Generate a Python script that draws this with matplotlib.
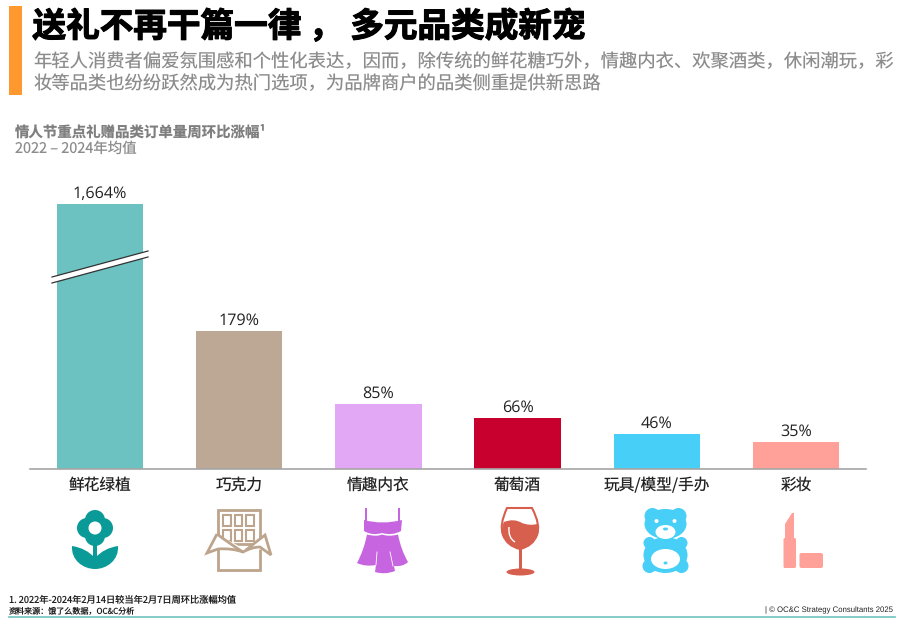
import matplotlib
matplotlib.use("Agg")
import matplotlib.pyplot as plt
import matplotlib.patheffects as pe
from matplotlib.path import Path
from matplotlib.patches import PathPatch, Circle, Ellipse, Rectangle, FancyBboxPatch, Polygon
import numpy as np

plt.rcParams['font.family'] = ['Noto Sans CJK SC', 'DejaVu Sans']
plt.rcParams['text.hinting'] = 'none'

categories = ['鲜花绿植', '巧克力', '情趣内衣', '葡萄酒', '玩具/模型/手办', '彩妆']
growth = [1664, 179, 85, 66, 46, 35]
bar_colors = ['#6CC1C1', '#BDA895', '#E3A8F5', '#C8002D', '#47CFF7', '#FFA199']

title = '送礼不再干篇一律 ， 多元品类成新宠'
subtitle1 = '年轻人消费者偏爱氛围感和个性化表达，因而，除传统的鲜花糖巧外，情趣内衣、欢聚酒类，休闲潮玩，彩'
subtitle2 = '妆等品类也纷纷跃然成为热门选项，为品牌商户的品类侧重提供新思路'
chart_title = '情人节重点礼赠品类订单量周环比涨幅¹'
chart_sub = '2022 – 2024年均值'
note1 = '1. 2022年-2024年2月14日较当年2月7日周环比涨幅均值'
note2 = '资料来源：饿了么数据，OC&C分析'
copyright_text = '| © OC&C Strategy Consultants 2025'

W, H = 906, 621
TEAL, TAN, PURPLE, WINE, BLUE, SALMON = '#0A9A98', '#BDA48C', '#C665DF', '#D65F4E', '#47CFF7', '#FFA199'


# the tall bar is cut, everything over 200 is squeezed
def squeeze(y):
    y = np.asarray(y, dtype=float)
    return np.where(y <= 200, y, 200 + (y - 200) * 144 / 1464)


def unsqueeze(y):
    y = np.asarray(y, dtype=float)
    return np.where(y <= 200, y, 200 + (y - 200) * 1464 / 144)


def shape(ax, cmds, **kw):
    verts, codes = [], []
    for c in cmds:
        if c[0] == 'M':
            verts.append(c[1]); codes.append(Path.MOVETO)
        elif c[0] == 'L':
            verts.append(c[1]); codes.append(Path.LINETO)
        elif c[0] == 'Q':
            verts += [c[1], c[2]]; codes += [Path.CURVE3] * 2
        elif c[0] == 'C':
            verts += [c[1], c[2], c[3]]; codes += [Path.CURVE4] * 3
        elif c[0] == 'Z':
            verts.append((0, 0)); codes.append(Path.CLOSEPOLY)
    kw.setdefault('lw', 0)
    patch = PathPatch(Path(verts, codes), **kw)
    ax.add_patch(patch)
    return patch


def flower(ax):
    cx, cy = 95, 528
    for dx, dy in [(0, -8), (0, 8), (-8, 0), (8, 0)]:
        ax.add_patch(Circle((cx + dx, cy + dy), 10, fc=TEAL, lw=0))
    ax.add_patch(Circle((cx, cy), 6.5, fc='white', lw=0, zorder=3))
    ax.add_patch(Rectangle((cx - 2, cy + 10), 4, 22, fc=TEAL, lw=0))
    shape(ax, [('M', (72, 546)), ('Q', (86, 548), (95, 558)), ('Q', (104, 548), (118, 546)),
               ('C', (119, 560), (107, 569), (95, 569)), ('C', (83, 569), (71, 560), (72, 546)), ('Z',)],
          fc=TEAL)


def chocolate(ax):
    lw = 2
    ax.add_patch(Rectangle((218, 510), 42, 34, fc='none', ec=TAN, lw=lw))
    for col in range(3):
        for row in range(2):
            ax.add_patch(Rectangle((223 + col * 11.5, 515 + row * 15), 7.5, 11, fc='none', ec=TAN, lw=1.5))
    shape(ax, [('M', (218, 549)), ('L', (218, 570)), ('L', (260, 570)), ('L', (260, 549))],
          fc='none', ec=TAN, lw=lw)
    # wrapper folded over the bar
    shape(ax, [('M', (217, 534)), ('L', (207, 553)), ('L', (218, 549)), ('Q', (232, 548), (243, 552)),
               ('Q', (252, 547), (260, 547)), ('L', (271, 555)), ('L', (265, 535)), ('Q', (256, 542), (246, 550))],
          fc='white', ec=TAN, lw=lw, zorder=3)
    shape(ax, [('M', (217, 534)), ('Q', (230, 544), (243, 552))], fc='none', ec=TAN, lw=lw, zorder=3)


def dress(ax):
    for x in (365.5, 398.5):
        ax.add_patch(Rectangle((x - 1, 508), 2.2, 13, fc=PURPLE, lw=0))
    shape(ax, [('M', (364, 520)), ('Q', (382, 525), (402, 520)), ('L', (401, 531)),
               ('Q', (392, 536), (382, 533)), ('Q', (372, 536), (364, 531)), ('Z',)], fc=PURPLE)
    shape(ax, [('M', (367, 534.5)), ('Q', (377, 537), (382, 534.5)), ('Q', (389, 537), (398, 534.5)),
               ('Q', (401, 550), (408, 562)), ('Q', (403, 567), (394, 566)), ('L', (395, 571)),
               ('Q', (385, 575), (375, 572)), ('L', (376, 565)), ('Q', (365, 567), (357, 563)),
               ('Q', (364, 550), (367, 534.5)), ('Z',)], fc=PURPLE)
    ax.plot([377, 376], [552, 565], color='white', lw=0.6)
    ax.plot([390, 393], [552, 566], color='white', lw=0.6)


def wine(ax):
    shape(ax, [('M', (507, 508)), ('L', (532, 508)), ('Q', (541, 525), (537, 535)),
               ('Q', (533, 546), (520, 549)), ('Q', (507, 546), (503, 535)), ('Q', (499, 525), (507, 508)), ('Z',)],
          fc='white', ec=WINE, lw=1.5)
    shape(ax, [('M', (504, 522)), ('Q', (514, 518), (522, 523)), ('Q', (530, 526), (537, 524)),
               ('Q', (539, 530), (537, 535)), ('Q', (533, 546), (520, 549)), ('Q', (507, 546), (503, 535)),
               ('Q', (501, 528), (504, 522)), ('Z',)], fc=WINE)
    shape(ax, [('M', (509, 527)), ('Q', (508, 538), (515, 542))], fc='none', ec='white', lw=1)
    ax.add_patch(Rectangle((518.5, 548), 3.5, 23, fc=WINE, lw=0))
    ax.add_patch(Ellipse((520.5, 572), 28, 7, fc=WINE, lw=0))


def bear(ax):
    cx = 665.5
    for dx in (-13, 13):
        ax.add_patch(Circle((cx + dx, 516), 8, fc=BLUE, lw=0))
    ax.add_patch(Ellipse((cx, 524), 42, 30, fc=BLUE, lw=0))
    for dx in (-16, 16):
        ax.add_patch(Circle((cx + dx, 543), 6, fc=BLUE, lw=0))
        ax.add_patch(Circle((cx + dx, 566), 7, fc=BLUE, lw=0))
    ax.add_patch(Ellipse((cx, 555), 44, 36, fc=BLUE, lw=0))
    ax.add_patch(Ellipse((cx, 532), 20, 14, fc='white', lw=0))
    ax.add_patch(Ellipse((cx, 529), 5, 3, fc=BLUE, lw=0))
    for dx in (-9, 9):
        ax.add_patch(Circle((cx + dx, 521), 2, fc='white', lw=0))
    ax.add_patch(Ellipse((cx, 559), 29, 20, fc='white', lw=0))
    ax.add_patch(Ellipse((cx, 563), 4, 3, fc=BLUE, lw=0))


def lipstick(ax):
    ax.add_patch(FancyBboxPatch((783.5, 538), 12.5, 30, boxstyle='round,pad=0,rounding_size=1.5', fc=SALMON, lw=0))
    shape(ax, [('M', (785, 542)), ('L', (785, 524)), ('L', (792, 513)), ('L', (794, 513)), ('L', (794, 542)), ('Z',)],
          fc=SALMON)
    ax.add_patch(FancyBboxPatch((799.5, 553), 23.5, 15, boxstyle='round,pad=0,rounding_size=2', fc=SALMON, lw=0))


fig = plt.figure(figsize=(W / 100, H / 100), dpi=100)

# bars, axes spans x 30-866 and y 185-469 in picture pixels
ax = fig.add_axes([30 / W, 1 - 469 / H, 836 / W, 284 / H])
x = np.arange(len(categories))
bars = ax.bar(x, growth, width=0.62, color=bar_colors)
ax.set_yscale('function', functions=(squeeze, unsqueeze))
ax.set_ylim(0, float(unsqueeze(284 / 0.77)))
ax.set_xlim(-0.503, 5.503)
ax.set_xticks(x, categories, fontsize=11.3, color='#222222')
ax.tick_params(axis='x', length=0, pad=6)
ax.yaxis.set_visible(False)
for side in ('top', 'left', 'right'):
    ax.spines[side].set_visible(False)
ax.spines['bottom'].set_color('#A6A6A6')
ax.spines['bottom'].set_linewidth(1.2)
for b, v in zip(bars, growth):
    ax.annotate(f'{v:,}%', (b.get_x() + b.get_width() / 2, v), xytext=(0, 1.5), textcoords='offset points',
                ha='center', va='bottom', fontsize=11.6, color='#222222', family=['Open Sans', 'DejaVu Sans'])

# overlay in picture pixels for header, footer, icons
ov = fig.add_axes([0, 0, 1, 1])
ov.set_xlim(0, W)
ov.set_ylim(H, 0)
ov.axis('off')
ov.patch.set_alpha(0)

ov.add_patch(Rectangle((9, 6), 13, 89, fc='#FF982F', lw=0))
ov.text(32.5, 27, title, fontsize=24.2, fontweight='bold', color='black', ha='left', va='center',
        path_effects=[pe.withStroke(linewidth=0.8, foreground='black')])
ov.text(33.5, 62, subtitle1, fontsize=13.2, color='#8C8C8C', ha='left', va='center')
ov.text(33.5, 84, subtitle2, fontsize=13.2, color='#8C8C8C', ha='left', va='center')
ov.text(15, 133, chart_title, fontsize=10.4, fontweight='bold', color='#7F7F7F', ha='left', va='center')
ov.text(15, 149, chart_sub, fontsize=10.4, color='#8C8C8C', ha='left', va='center')

# axis break on the tall bar
ov.add_patch(Polygon([(52, 277), (148, 251), (148, 257), (52, 283)], fc='white', lw=0))
ov.plot([52, 148], [277, 251], color='#333333', lw=0.9)
ov.plot([52, 148], [283, 257], color='#333333', lw=0.9)

flower(ov)
chocolate(ov)
dress(ov)
wine(ov)
bear(ov)
lipstick(ov)

ov.text(9, 600, note1, fontsize=6.65, color='#222222', ha='left', va='center')
ov.text(9, 610.5, note2, fontsize=5.8, color='#222222', ha='left', va='center')
ov.text(893, 610.5, copyright_text, fontsize=5.6, color='#222222', ha='right', va='center',
        family=['Liberation Sans', 'DejaVu Sans'])
ov.plot([9, 895], [617, 617], color='#6FC3BF', lw=1.2)

fig.savefig('out.png', dpi=100)
